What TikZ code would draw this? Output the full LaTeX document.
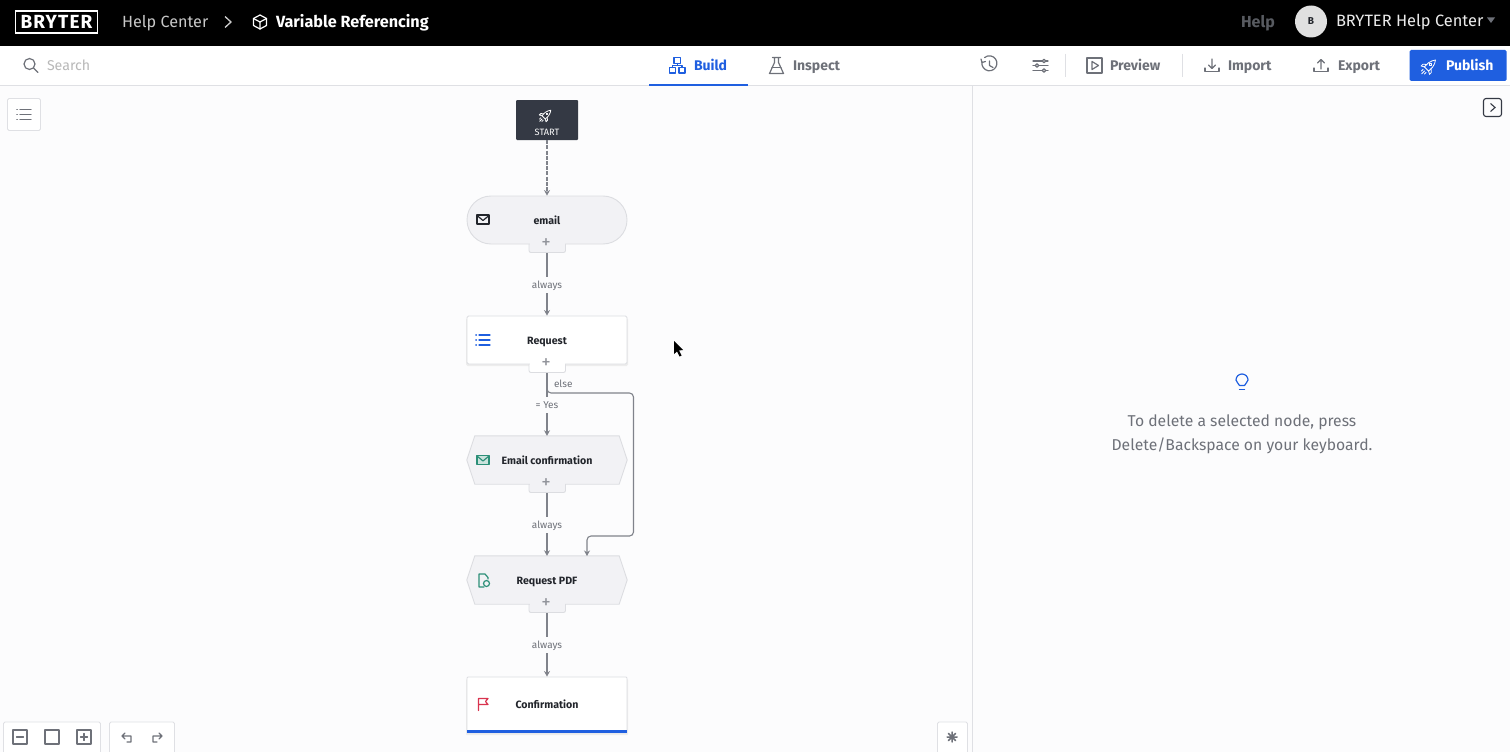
\documentclass[tikz,border=0pt]{standalone}
\usepackage{fontspec}
\setmainfont{Fira Sans}
\usetikzlibrary{arrows.meta,calc}
\definecolor{bg}{HTML}{FCFCFD}
\definecolor{rule}{HTML}{DFE0E4}
\definecolor{ink}{HTML}{22252B}
\definecolor{greytxt}{HTML}{6E7179}
\definecolor{wire}{HTML}{80838B}
\definecolor{nodefill}{HTML}{F2F2F5}
\definecolor{nodeline}{HTML}{DCDDE1}
\definecolor{bluea}{HTML}{1F5FE0}
\definecolor{greena}{HTML}{2C8F78}
\definecolor{reda}{HTML}{D9344F}
\definecolor{darkbox}{HTML}{343944}
\tikzset{
  rmsize/.style={font=\fontsize{#1}{#1}\selectfont,text height=0.69*#1 pt,text depth=0pt,inner sep=0pt,outer sep=0pt},
  bfsize/.style={font=\fontsize{#1}{#1}\selectfont\bfseries,text height=0.69*#1 pt,text depth=0pt,inner sep=0pt,outer sep=0pt},
  txt/.style={anchor=west},
  toolbtn/.style={bfsize=14,text=greytxt,txt},
  ttl/.style={bfsize=10.6,text=ink},
  lbl/.style={rmsize=10,text=greytxt,inner xsep=2pt,inner ysep=4.5pt,fill=bg,yshift=-0.5pt},
  plus/.style={rmsize=19,text=greytxt!75},
  wirearrow/.style={draw=wire,line width=1.3pt,-{Stealth[length=5.5pt,width=6pt]}},
  nodeshape/.style={draw=nodeline,line width=0.9pt,fill=nodefill},
  cardshape/.style={draw=nodeline,line width=0.9pt,fill=white},
  tabshape/.style={draw=nodeline,line width=0.9pt,rounded corners=2pt},
  anchorbox/.style={inner sep=0pt,minimum width=160pt,minimum height=48pt},
  panelbox/.style={draw=rule,fill=white,line width=0.8pt,rounded corners=1.5pt},
  ico/.style={line width=1.2pt,line cap=round,line join=round},
  rocketpic/.pic={
    \begin{scope}[rotate=135,ico,line width=0.8pt]
      \draw[pic actions] (-3.5,-5) -- (-3.5,2) .. controls (-3.5,5) and (-1,8) .. (0,10) .. controls (1,8) and (3.5,5) .. (3.5,2) -- (3.5,-5) -- cycle;
      \draw[pic actions] (0,2) circle (1.6);
      \draw[pic actions] (-3.5,-1) -- (-7,-4) -- (-7,-7) -- (-3.5,-5);
      \draw[pic actions] (3.5,-1) -- (7,-4) -- (7,-7) -- (3.5,-5);
      \draw[pic actions] (-2.5,-8) -- (-2.5,-11) (0,-8) -- (0,-13) (2.5,-8) -- (2.5,-11);
    \end{scope}
  },
  listpic/.pic={
    \draw[pic actions,ico] (-4,-5) -- (7,-5) (-4,0) -- (7,0) (-4,5) -- (7,5);
    \draw[pic actions,ico,line width=1.6pt] (-7,-5) -- (-6.8,-5) (-7,0) -- (-6.8,0) (-7,5) -- (-6.8,5);
  },
  mailpic/.pic={
    \draw[pic actions,ico] (-6,-4.5) rectangle (6,4.5);
    \draw[pic actions,ico] (-6,-4) -- (0,1) -- (6,-4);
  },
}
\begin{document}
\begin{tikzpicture}[x=1pt,y=-1pt]
\useasboundingbox (0,0) rectangle (1510,752);
\fill[bg] (0,0) rectangle (1510,752);
% top bar
\fill[black] (0,0) rectangle (1510,46);
\fill[white] (0,46) rectangle (1510,85);
\draw[rule,line width=0.8pt] (0,85.5) -- (1510,85.5);
\draw[rule,line width=0.8pt] (972.5,86) -- (972.5,752);
\node[draw=white,line width=1.3pt,minimum width=82pt,minimum height=22pt,inner sep=0pt,text=white,font=\fontsize{19}{19}\selectfont\bfseries\addfontfeatures{LetterSpace=6}] (logo) at (56.5,22) {BRYTER};
\node[txt,text=white!78!black,rmsize=16.2] (hc) at (122,22) {Help Center};
\draw[white!80!black,line width=1.3pt] (225,16.5) -- (231,22) -- (225,27.5);
\begin{scope}[shift={(260,22)},white,ico,line join=round]
  \draw (0,-7) -- (6.5,-3.5) -- (6.5,3.5) -- (0,7) -- (-6.5,3.5) -- (-6.5,-3.5) -- cycle;
  \draw (-6.5,-3.5) -- (0,0) -- (6.5,-3.5) (0,0) -- (0,7);
\end{scope}
\node[txt,text=white,bfsize=16.2] (vr) at (276,22) {Variable Referencing};
\node[txt,text=greytxt!80!black,bfsize=16] (help) at (1241,22) {Help};
\node[circle,fill=white!88!black,minimum size=32pt,inner sep=0pt,text=ink,font=\fontsize{10}{10}\selectfont\bfseries] (avatar) at (1311,21.5) {B};
\node[txt,text=white!92!black,rmsize=16.4] (org) at (1336,20.5) {BRYTER Help Center};
\fill[greytxt] (1487,17.5) -- (1495,17.5) -- (1491,23) -- cycle;
% search
\draw[greytxt,ico] (29.5,64) circle (5.5) (33.5,68) -- (38,72.5);
\node[txt,text=black!28,rmsize=14.2] (search) at (47,65.5) {Search};
% tabs
\fill[bluea] (648.5,83.5) rectangle (747.5,85.5);
\begin{scope}[bluea,ico]
  \draw (674,57.5) rectangle (680.5,63.5) (669.5,67.5) rectangle (675.5,73) (679,67.5) rectangle (685,73);
  \draw (677.5,63.5) -- (677.5,65.5) (672.5,67.5) -- (672.5,65.5) -- (682,65.5) -- (682,67.5);
\end{scope}
\node[txt,text=bluea,bfsize=14] (build) at (694,65.5) {Build};
\begin{scope}[greytxt,ico]
  \draw (772.5,57.5) -- (780.5,57.5) (774.5,57.5) -- (774.5,62.5) -- (769.5,73.5) -- (783.5,73.5) -- (778.5,62.5) -- (778.5,57.5);
  \draw (772,67.5) -- (781,67.5);
\end{scope}
\node[toolbtn] (inspect) at (793,65.5) {Inspect};
% history + sliders
\begin{scope}[greytxt,ico]
  \draw (982,62) arc[start angle=190,end angle=-130,radius=7.5] ;
  \draw (981,59) -- (982,62.5) -- (985.5,61.5);
  \draw (989.5,61) -- (989.5,65.5) -- (993,67.5);
  \draw (1033,61) -- (1048,61) (1033,65.5) -- (1048,65.5) (1033,70.5) -- (1048,70.5);
  \filldraw[fill=white] (1044,61) circle (1.7) (1037,65.5) circle (1.7) (1044,70.5) circle (1.7);
\end{scope}
\draw[rule,line width=0.8pt] (1065,54) -- (1065,77) (1182,54) -- (1182,77);
% preview etc
\begin{scope}[greytxt,ico]
  \draw (1087,58) rectangle (1102,73);
  \draw (1092,61.5) -- (1098.5,65.5) -- (1092,69.5) -- cycle;
  \draw (1205,68) -- (1205,71.5) -- (1219,71.5) -- (1219,68);
  \draw (1212,59) -- (1212,68) (1208.5,65) -- (1212,68.5) -- (1215.5,65);
  \draw (1314,68) -- (1314,71.5) -- (1328,71.5) -- (1328,68);
  \draw (1321,69) -- (1321,60) (1317.5,63) -- (1321,59.5) -- (1324.5,63);
\end{scope}
\node[toolbtn] (preview) at (1110,65.5) {Preview};
\node[toolbtn] (import) at (1228,65.5) {Import};
\node[toolbtn] (export) at (1338,65.5) {Export};
\node[fill=bluea,rounded corners=1.5pt,minimum width=97pt,minimum height=31pt,inner sep=0pt] (pubbtn) at (1458,65.5) {};
\node[txt,text=white,bfsize=14] (publish) at (1446,65.5) {Publish};
\pic[draw=white,scale=0.85] at (1429.5,66) {rocketpic};
% side buttons
\node[panelbox,minimum width=33pt,minimum height=32pt,inner sep=0pt] (listbtn) at (24,114.5) {};
\pic[draw=greytxt] at (24,114.5) {listpic};
\node[draw=darkbox,line width=1.1pt,rounded corners=2.5pt,minimum width=18pt,minimum height=18pt,inner sep=0pt] (collapse) at (1492.5,107.5) {};
\draw[darkbox,line width=1.1pt] (1490.5,103.5) -- (1495,107.5) -- (1490.5,111.5);
% flow nodes
\node[fill=darkbox,rounded corners=1pt,minimum width=62pt,minimum height=40pt,inner sep=0pt] (start) at (547,120) {};
\node[text=white,rmsize=9.2] (startlbl) at (547,132.5) {START};
\pic[draw=white,scale=0.68] at (546,115) {rocketpic};
% email
\draw[tabshape,fill=nodefill] (529,240) -- (529,252.5) -- (565.5,252.5) -- (565.5,240);
\node[anchorbox,nodeshape,rounded corners=24pt] (email) at (547,220) {};
\fill[nodefill] (530,243) rectangle (565,250);
% request
\fill[black!7,rounded corners=1.5pt] (466,318) rectangle (628,366);
\draw[tabshape,fill=white] (529,360) -- (529,372.5) -- (565.5,372.5) -- (565.5,360);
\node[anchorbox,cardshape,rounded corners=1.5pt] (request) at (547,340) {};
\fill[white] (530,363) rectangle (565,370);
% email confirmation
\node[anchorbox] (ec) at (547,460) {};
\draw[tabshape,fill=nodefill] (529,480) -- (529,492.5) -- (565.5,492.5) -- (565.5,480);
\draw[nodeshape] (ec.west) -- ($(ec.north west)+(8,0)$) -- ($(ec.north east)+(-8,0)$) -- (ec.east) -- ($(ec.south east)+(-8,0)$) -- ($(ec.south west)+(8,0)$) -- cycle;
\fill[nodefill] (530,483) rectangle (565,490);
% request pdf
\node[anchorbox] (pdf) at (547,580) {};
\draw[tabshape,fill=nodefill] (529,600) -- (529,612.5) -- (565.5,612.5) -- (565.5,600);
\draw[nodeshape] (pdf.west) -- ($(pdf.north west)+(8,0)$) -- ($(pdf.north east)+(-8,0)$) -- (pdf.east) -- ($(pdf.south east)+(-8,0)$) -- ($(pdf.south west)+(8,0)$) -- cycle;
\fill[nodefill] (530,603) rectangle (565,610);
% confirmation
\fill[black!7,rounded corners=1pt] (466,679) rectangle (628,735);
\node[cardshape,minimum width=160pt,minimum height=56pt,inner sep=0pt,rounded corners=1pt] (conf) at (547,705) {};
\fill[bluea] (467,729.5) rectangle (627,733);
% tab anchors
\coordinate (emailtab) at (547,253);
\coordinate (reqtab) at (547,373);
\coordinate (ectab) at (547,493);
\coordinate (pdftab) at (547,613);
\coordinate (elsetarget) at (587,556);
% labels on nodes
\node[ttl] (t1) at (547,220.5) {email};
\node[ttl] (t2) at (547,340.5) {Request};
\node[ttl] (t3) at (547,460.5) {Email confirmation};
\node[ttl] (t4) at (547,580.5) {Request PDF};
\node[ttl] (t5) at (547,705) {Confirmation};
\node[plus] (p1) at (546,241.5) {+};
\node[plus] (p2) at (546,361.5) {+};
\node[plus] (p3) at (546,481.5) {+};
\node[plus] (p4) at (546,601.5) {+};
% connectors
\draw[wirearrow,dash pattern=on 4pt off 1.2pt] (start.south) -- (email.north);
\draw[wirearrow,line width=1.1pt,rounded corners=4pt] (reqtab) -- ++(0,20) -| (633.5,536) -| (elsetarget);
\draw[wirearrow] (emailtab) -- node[lbl] (l1) {always} (request.north);
\draw[wirearrow] (reqtab) -- node[lbl,pos=0.5] (l2) {= Yes} (ec.north);
\draw[wirearrow] (ectab) -- node[lbl] (l3) {always} (pdf.north);
\draw[wirearrow] (pdftab) -- node[lbl] (l4) {always} (conf.north);
\node[rmsize=10,text=greytxt,anchor=west] (l5) at (554,384) {else};
% node icons
\pic[draw=ink] at (483,219.5) {mailpic};
\pic[draw=bluea] at (483,340) {listpic};
\fill[greena!25] (477,455.5) rectangle (489,464.5);
\pic[draw=greena] at (483,460) {mailpic};
\begin{scope}[greena,ico]
  \draw (484,587) -- (479,587) -- (479,574) -- (485,574) -- (488,577.5) -- (488,579);
  \draw (486.5,583.5) circle (3);
\end{scope}
\begin{scope}[reda,ico]
  \draw (478.5,710.5) -- (478.5,698.5) -- (488,698.5) -- (485.5,701.5) -- (488,704.5) -- (478.5,704.5);
\end{scope}
% cursor
\fill[black] (674,341) -- (674,354) -- (677,351.5) -- (679.5,356.5) -- (681.5,355.5) -- (679,350.5) -- (683,350) -- cycle;
% hint panel
\begin{scope}[bluea,ico]
  \draw (1239.5,385.5) .. controls (1239,383) and (1236,382.5) .. (1236,380) arc[start angle=180,end angle=360,radius=6] .. controls (1248,382.5) and (1245,383) .. (1244.5,385.5) -- cycle;
  \draw (1239.5,389.5) -- (1244.5,389.5);
\end{scope}
\node[text=greytxt,rmsize=15.7] (h1) at (1242,421.5) {To delete a selected node, press};
\node[text=greytxt,rmsize=15.7] (h2) at (1242,445.5) {Delete/Backspace on your keyboard.};
% bottom toolbars
\draw[panelbox] (3.5,753) -- (3.5,722) -- (100.5,722) -- (100.5,753);
\draw[panelbox] (109.5,753) -- (109.5,722) -- (174.5,722) -- (174.5,753);
\draw[panelbox] (937.5,753) -- (937.5,722) -- (967.5,722) -- (967.5,753);
\begin{scope}[greytxt,ico]
  \draw (13,730) rectangle (27,744) (16.5,737) -- (23.5,737);
  \draw (45,730) rectangle (59,744);
  \draw (77,730) rectangle (91,744) (80.5,737) -- (87.5,737) (84,733.5) -- (84,740.5);
  \draw (122,736) -- (131,736) -- (131,742) -- (127,742) (125,733) -- (122,736) -- (125,739);
  \draw (162,736) -- (153,736) -- (153,742) -- (157,742) (159,733) -- (162,736) -- (159,739);
  \draw[line width=1.5pt] (947,737) -- (957,737) (952,732) -- (952,742) (948.5,733.5) -- (955.5,740.5) (948.5,740.5) -- (955.5,733.5);
\end{scope}
\end{tikzpicture}
\end{document}
